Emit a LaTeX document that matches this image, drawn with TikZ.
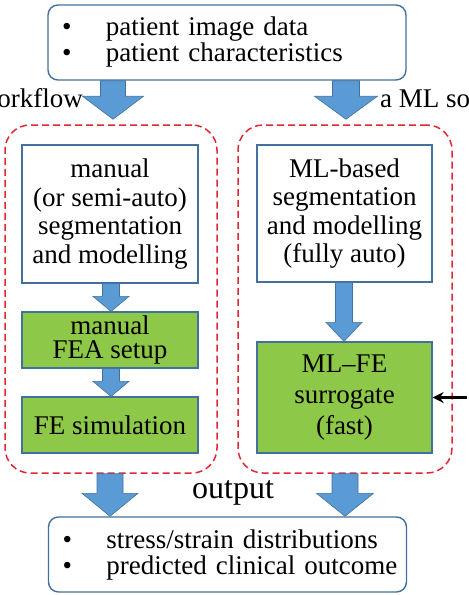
\documentclass[tikz,border=0pt]{standalone}
\usepackage{fontspec}
\setmainfont{Liberation Serif}
\usetikzlibrary{calc,arrows.meta}
\definecolor{boxblue}{RGB}{65,113,156}
\definecolor{arrfill}{RGB}{91,155,213}
\definecolor{fegreen}{RGB}{142,200,72}
\definecolor{dashred}{RGB}{222,40,52}
\newcommand\barrow[5]{%
  \path[blockarr] let \p1=(#1), \p2=(#2) in
    (\x1-#3pt,\y1) -- (\x1-#3pt,\y2+#5pt) -- (\x1-#4pt,\y2+#5pt) -- (\x1,\y2)
    -- (\x1+#4pt,\y2+#5pt) -- (\x1+#3pt,\y2+#5pt) -- (\x1+#3pt,\y1) -- cycle;}
\begin{document}
\begin{tikzpicture}[x=1pt,y=-1pt,
  txt/.style={font=\rmfamily\fontsize{27}{28.5}\selectfont},
  inbox/.style={draw=boxblue,line width=1.4pt,rounded corners=10pt,fill=white,
    minimum height=75pt,text width=330pt,inner xsep=14pt,align=left,
    font=\rmfamily\fontsize{27}{26}\selectfont},
  stepbox/.style={draw=boxblue,line width=1.2pt,fill=white,minimum width=176pt,
    inner sep=0pt,align=center,txt},
  febox/.style={stepbox,fill=fegreen},
  group/.style={draw=dashred,line width=1.5pt,dash pattern=on 7pt off 4pt,
    rounded corners=25pt,minimum width=212pt,minimum height=348pt,inner sep=0pt},
  blockarr/.style={fill=arrfill,draw=boxblue,line width=0.6pt}]
\useasboundingbox (0,0) rectangle (469,595);
\clip (0,0) rectangle (469,595);
\newcommand\bl{\makebox[44pt][l]{\textbullet}}
% groups
\node[group] (gl) at (111,299) {};
\node[group,minimum width=214pt] (gr) at (345,299) {};
% input / output
\node[inbox] (in) at (227,42.5) {\mbox{\bl patient image data}\\\mbox{\bl patient characteristics}};
\node[inbox] (out) at (227.5,554.5) {\mbox{\bl stress/strain distributions}\\\mbox{\bl predicted clinical outcome}};
% left workflow
\node[stepbox,minimum height=138pt] (seg) at (110,214)
  {manual\\(or semi-auto)\\segmentation\\and modelling};
\node[febox,minimum height=56pt,font=\rmfamily\fontsize{27}{24.5}\selectfont] (setup) at (110,340)
  {manual\\FEA setup};
\node[febox,minimum height=56pt] (sim) at (110,425) {FE simulation};
% right workflow
\node[stepbox,minimum width=175pt,minimum height=137pt] (mlseg) at (344.5,213.5)
  {ML-based\\segmentation\\and modelling\\(fully auto)};
\node[febox,minimum width=175pt,minimum height=111pt,font=\rmfamily\fontsize{27}{31}\selectfont]
  (sur) at (344.5,397.5) {ML–FE\\surrogate\\(fast)};
% labels
\node[txt,anchor=base east,inner sep=0pt] (lw) at (83,107) {workflow};
\node[txt,anchor=base west,inner sep=0pt] (lm) at (380,107) {a ML solution};
\node[font=\rmfamily\fontsize{32}{34}\selectfont,anchor=base,inner sep=0pt] (op) at (233,498) {output};
% column coordinates
\coordinate (cL) at (113,0);
\coordinate (cR) at (346,0);
\coordinate (sL) at (111,0);
\coordinate (sR) at (344,0);
\coordinate (oL) at (110,0);
\coordinate (oR) at (345,0);
% block arrows
\barrow{in.south -| cL}{$(gl.north -| cL)+(0,-5)$}{12.5}{30.5}{23}
\barrow{in.south -| cR}{$(gr.north -| cR)+(0,-5)$}{13.5}{31.5}{23}
\barrow{seg.south -| sL}{setup.north -| sL}{8.5}{18}{15}
\barrow{setup.south -| sL}{sim.north -| sL}{8.5}{18}{15}
\barrow{mlseg.south -| sR}{sur.north -| sR}{8.5}{18}{19}
\barrow{gl.south -| oL}{out.north -| oL}{13}{28}{23}
\barrow{gr.south -| oR}{out.north -| oR}{13}{28.5}{23}
% black arrow
\coordinate (bs) at (467,397.5);
\draw[line width=3pt,-{Stealth[length=11pt,width=11pt]}] (bs) -- (sur.east);
\end{tikzpicture}
\end{document}
